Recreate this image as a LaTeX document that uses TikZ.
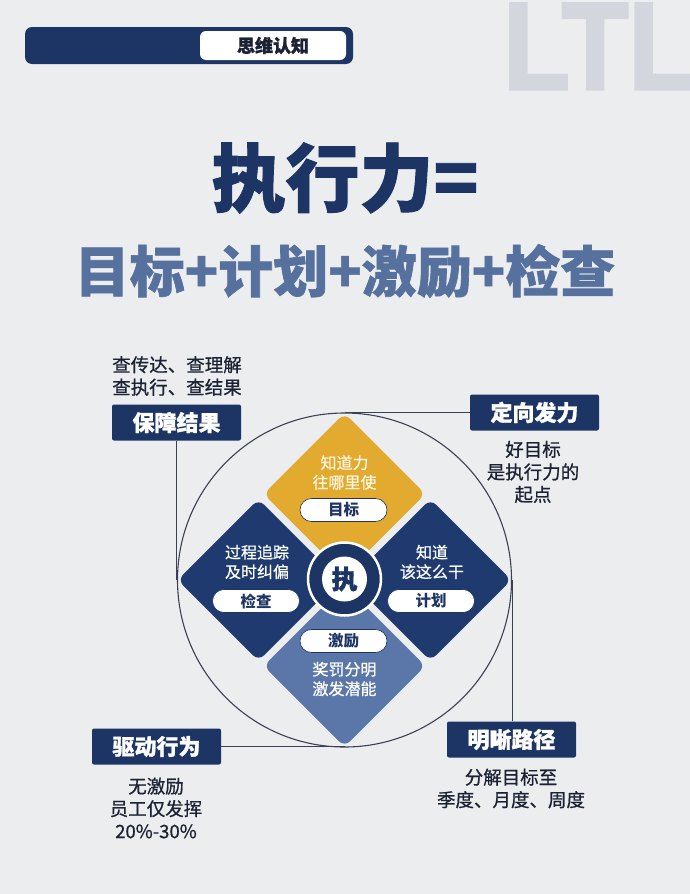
\documentclass[tikz,border=0pt]{standalone}
\usepackage{fontspec}
\setmainfont{Noto Sans CJK SC}
\newfontfamily\heavy{Noto Sans CJK SC}[BoldFeatures={FakeBold=1.2}]
\newfontfamily\med{Noto Sans CJK SC}[FakeBold=0.7]
\newfontfamily\wmfont{Liberation Sans}[BoldFeatures={FakeBold=2.5}]
\usetikzlibrary{shapes.geometric}
\definecolor{navy}{HTML}{1D3564}
\definecolor{dnavy}{HTML}{1E3A6E}
\definecolor{gold}{HTML}{E2AA2E}
\definecolor{steel}{HTML}{5B77A9}
\definecolor{bg}{HTML}{ECEDEE}
\definecolor{ink}{HTML}{1B2233}
\definecolor{subc}{HTML}{56719E}
\definecolor{wm}{HTML}{D3D7DD}
\definecolor{linec}{HTML}{3B4152}
\definecolor{cream}{HTML}{FFF6E0}
\tikzset{
  lblbox/.style={fill=navy, text=white, font=\heavy\bfseries\fontsize{22}{24}\selectfont,
    minimum width=129pt, minimum height=36pt, rounded corners=2pt, inner sep=0pt},
  desc/.style={align=center, text=ink, font=\med\fontsize{18.5}{22.5}\selectfont, inner sep=0pt},
  diam/.style={shape=diamond, aspect=1, minimum width=162pt, minimum height=162pt,
    inner sep=0pt, rounded corners=8pt},
  dtxt/.style={align=center, text=white, font=\med\fontsize{16}{19.5}\selectfont, inner sep=0pt},
  pill/.style={fill=white, draw=navy, line width=.6pt, rounded corners=11.5pt,
    minimum width=87pt, minimum height=23pt, inner sep=0pt, text=navy,
    font=\bfseries\fontsize{15.5}{17}\selectfont},
  conn/.style={draw=linec, line width=1.1pt}
}
\begin{document}
\begin{tikzpicture}[x=1pt,y=-1pt]
\clip (0,0) rectangle (690,894);
\fill[bg] (0,0) rectangle (690,894);
% watermark
\node[anchor=base west, text=wm, font=\wmfont\bfseries\fontsize{124}{126}\selectfont,
  xscale=.88, inner sep=0pt] (wmark) at (503,89) {LTL};
% top badge
\node[fill=navy, minimum width=328pt, minimum height=37pt, rounded corners=7pt, inner sep=0pt] (badge) at (189,45.5) {};
\node[fill=white, minimum width=146pt, minimum height=29pt, rounded corners=6pt, inner sep=0pt,
  text=ink, font=\heavy\bfseries\fontsize{18}{20}\selectfont] (tag) at (273,45.5) {思维认知};
% titles
\node[text=navy, font=\heavy\bfseries\fontsize{74}{84}\selectfont, inner sep=0pt] (title) at (345,178) {执行力=};
\node[text=subc, font=\heavy\bfseries\fontsize{55}{62}\selectfont, inner sep=0pt] (subtitle) at (345,271) {目标+计划+激励+检查};
% big circle
\node[circle, draw=linec, line width=1.1pt, minimum size=334pt, inner sep=0pt] (ring) at (344.5,580) {};
% diamonds
\node[diam, fill=gold] (dtop) at (344.5,494) {};
\node[diam, fill=dnavy] (dleft) at (258.5,580) {};
\node[diam, fill=dnavy] (dright) at (430.5,580) {};
\node[diam, fill=steel] (dbot) at (344.5,666) {};
% diamond texts
\node[dtxt, text=cream] (ttop) at (344.5,472.5) {知道力\\往哪里使};
\node[dtxt] (tleft) at (257,562) {过程追踪\\及时纠偏};
\node[dtxt] (tright) at (432,562) {知道\\该这么干};
\node[dtxt] (tbot) at (344.5,679) {奖罚分明\\激发潜能};
\node[pill] (ptop) at (343.5,510) {目标};
\node[pill] (pleft) at (256,601) {检查};
\node[pill] (pright) at (431,601) {计划};
\node[pill] (pbot) at (343.5,641) {激励};
% hub
\node[circle, fill=navy, draw=white, line width=2.5pt, minimum size=73pt, inner sep=0pt] (hub) at (344.5,579) {};
\node[circle, fill=white, minimum size=45pt, inner sep=0pt, text=navy,
  font=\heavy\bfseries\fontsize{26}{28}\selectfont] (zhi) at (hub.center) {执};
% label boxes
\node[lblbox] (bzjg) at (176.5,422.5) {保障结果};
\node[lblbox] (dxfl) at (534.5,412.5) {定向发力};
\node[lblbox] (qdxw) at (156.5,746.5) {驱动行为};
\node[lblbox] (mxlj) at (511.5,739.5) {明晰路径};
% descriptions
\node[desc] (d1) at (177,376) {查传达、查理解\\查执行、查结果};
\node[desc] (d2) at (533,472) {好目标\\是执行力的\\起点};
\node[desc] (d3) at (156,808) {无激励\\员工仅发挥\\20\%-30\%};
\node[desc] (d4) at (511,788.5) {分解目标至\\季度、月度、周度};
% connectors
\draw[conn] (ring.north) -- (ring.north -| dxfl.west);
\draw[conn] (bzjg.south) -- (bzjg.south |- ring.west);
\draw[conn] (ring.east) -- (ring.east |- mxlj.north);
\draw[conn] (qdxw.east) -- (qdxw.east -| ring.south);
\end{tikzpicture}
\end{document}
